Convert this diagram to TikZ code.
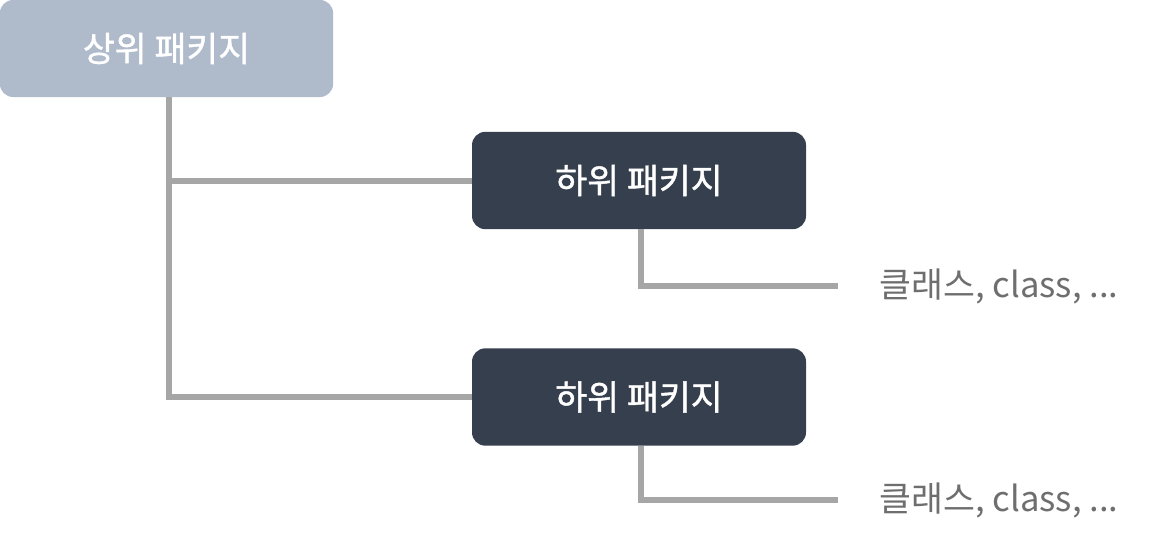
\documentclass[tikz,border=0pt]{standalone}
\usepackage{fontspec}
\newfontfamily\kr{Noto Sans CJK KR}
\newfontfamily\krbox{Noto Sans CJK KR}[FakeBold=1.2]
\definecolor{topfill}{HTML}{AFBACB}
\definecolor{subfill}{HTML}{353F4D}
\definecolor{wire}{HTML}{A6A6A6}
\definecolor{leaftext}{HTML}{6E6E6E}
\begin{document}
\begin{tikzpicture}[x=0.75pt, y=-0.75pt,
	top/.style={fill=topfill, rounded corners=10pt, minimum width=250pt, minimum height=72.75pt, text=white, font=\krbox\fontsize{26}{30}\selectfont},
	sub/.style={fill=subfill, rounded corners=10pt, minimum width=250.5pt, minimum height=73pt, text=white, font=\krbox\fontsize{26}{30}\selectfont},
	leaf/.style={anchor=west, inner xsep=31pt, inner ysep=0pt, text=leaftext, font=\kr\fontsize{26}{30}\selectfont},
	wire/.style={draw=wire, line width=4.5pt}]
			\useasboundingbox (0,0) rectangle (1170,546);
			\node[top] (pkg) at (166.5,48.5) {상위 패키지};
			\node[sub] (sub1) at (639,180.5) {하위 패키지};
			\node[sub] (sub2) at (639,397) {하위 패키지};
			\node[leaf] (leaf1) at (838,286) {클래스, class, ...};
			\node[leaf] (leaf2) at (838,500) {클래스, class, ...};
			\coordinate (trunk) at (169,97);
			\draw[wire] (trunk) |- (sub2.west);
			\draw[wire] (trunk |- sub1.west) -- (sub1.west);
			\draw[wire] ([xshift=1.5pt]sub1.south) |- (leaf1.west);
			\draw[wire] ([xshift=1.5pt]sub2.south) |- (leaf2.west);
			\end{tikzpicture}
\end{document}
